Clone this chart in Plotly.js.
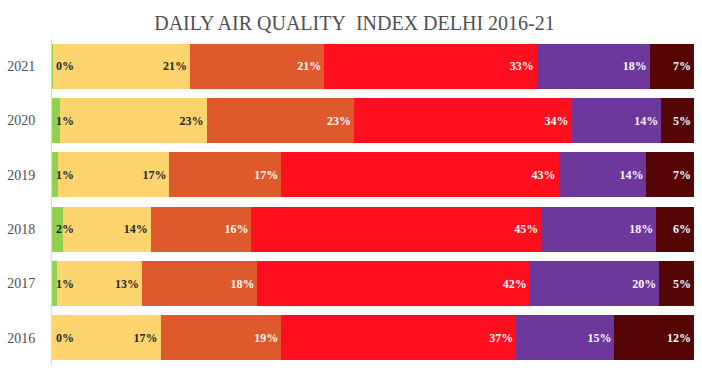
<!DOCTYPE html>
<html>
<head>
<meta charset="utf-8">
<script src="https://cdn.plot.ly/plotly-3.0.1.min.js"></script>
<style>html,body{margin:0;padding:0;background:#fff;}#chart{width:702px;height:376px;}</style>
</head>
<body>
<div id="chart"></div>
<script>
const years = ['2016','2017','2018','2019','2020','2021'];
const good         = [0.0, 0.8, 1.7, 0.9, 1.2, 0.2];
const satisfactory = [16.9, 13.2, 13.7, 17.4, 22.9, 21.3];
const moderate     = [18.8, 18.0, 15.7, 17.4, 23.0, 20.9];
const poor         = [36.6, 42.4, 45.2, 43.2, 33.9, 33.1];
const veryPoor     = [15.3, 20.2, 17.9, 13.7, 14.0, 17.6];
const severe       = [12.4, 5.4, 5.9, 7.4, 5.1, 6.9];
const seriesNames  = ['Good','Satisfactory','Moderate','Poor','Very Poor','Severe'];
const titleText = 'DAILY AIR QUALITY&nbsp;&nbsp;INDEX DELHI 2016-21';

const colors = ['#92d050','#fed46e','#de5a2d','#fe0f1e','#6e379c','#560505'];
const textColors = ['#262626','#262626','#f8f8f8','#f8f8f8','#f8f8f8','#f8f8f8'];
const allSeries = [good, satisfactory, moderate, poor, veryPoor, severe];
const labelFont = {family:'Liberation Serif, Times New Roman, serif', size:12, weight:700};

const traces = allSeries.map((vals, i) => ({
  type:'bar', orientation:'h', name:seriesNames[i],
  y: years, x: vals,
  marker:{color:colors[i], line:{width:0}},
  text: i === 0 ? null : vals.map(v => Math.round(v) + '%'),
  textposition: i === 0 ? 'none' : 'inside',
  insidetextanchor:'end',
  textangle:0,
  insidetextfont: Object.assign({color:textColors[i]}, labelFont),
  hoverinfo:'skip'
}));

const annotations = years.map((yr, j) => ({
  x: 0, y: j, xref:'x', yref:'y',
  xanchor:'left', yanchor:'middle', xshift:2,
  text: Math.round(good[j]) + '%', showarrow:false,
  font: Object.assign({color:textColors[0]}, labelFont)
}));

const layout = {
  width:702, height:376,
  margin:{l:52, r:8, t:39, b:11, pad:0},
  paper_bgcolor:'#ffffff', plot_bgcolor:'#ffffff',
  barmode:'stack', barnorm:'percent', bargap:0.17,
  showlegend:false,
  title:{text:titleText, x:0.505, xanchor:'center', y:1-23/376, yanchor:'middle', yref:'container',
         font:{family:'Liberation Serif, Times New Roman, serif', size:20, color:'#505050'}},
  xaxis:{range:[0,100], visible:false, fixedrange:true},
  yaxis:{type:'category', categoryorder:'array', categoryarray:years, range:[-0.5, 5.5],
         showline:true, linecolor:'#d9d9d9', linewidth:1, showgrid:false, zeroline:false,
         ticks:'', ticklabelstandoff:13,
         tickfont:{family:'Liberation Serif, Times New Roman, serif', size:14, color:'#505050'}},
  annotations: annotations
};

Plotly.newPlot('chart', traces, layout, {staticPlot:true, displayModeBar:false});
</script>
</body>
</html>
